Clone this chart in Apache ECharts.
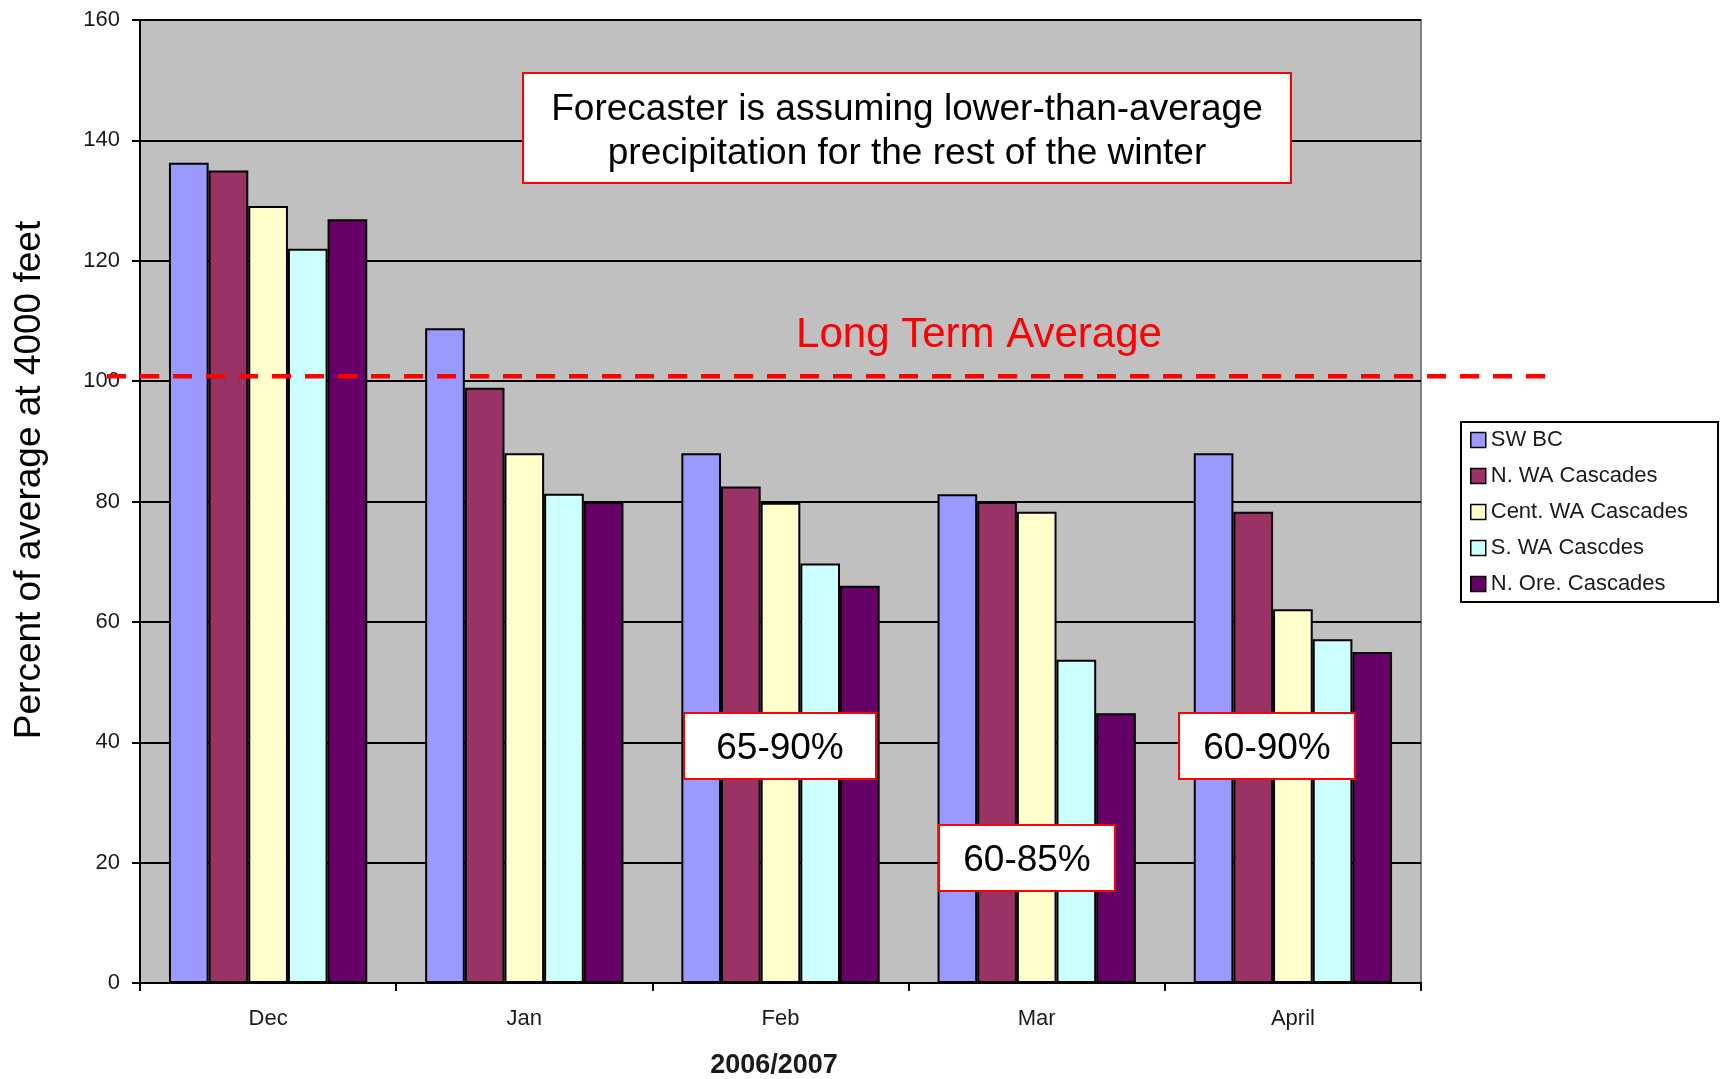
<!DOCTYPE html>
<html>
<head>
<meta charset="utf-8">
<script src="https://cdn.jsdelivr.net/npm/echarts@6/dist/echarts.min.js"></script>
<style>
html,body{margin:0;padding:0;background:#fff;}
#chart{width:1724px;height:1079px;}
</style>
</head>
<body>
<div id="chart"></div>
<script>
const categories = ['Dec', 'Jan', 'Feb', 'Mar', 'April'];
const seriesNames = ['SW BC', 'N. WA Cascades', 'Cent. WA Cascades', 'S. WA Cascdes', 'N. Ore. Cascades'];
const swBC      = [136.3, 108.8, 88.0, 81.2, 88.0];
const nWA       = [135.0, 98.9, 82.5, 79.9, 78.3];
const centWA    = [129.1, 88.0, 79.8, 78.3, 62.1];
const sWA       = [122.0, 81.3, 69.7, 53.7, 57.1];
const nOre      = [126.9, 79.9, 66.0, 44.8, 55.0];
const yTicks = [0, 20, 40, 60, 80, 100, 120, 140, 160];
const longTermAverage = 100.8;
const colors = ['#9999FF', '#993366', '#FFFFCC', '#CCFFFF', '#660066'];
const seriesData = [swBC, nWA, centWA, sWA, nOre];

const FONT = '"Liberation Sans", Arial, sans-serif';
const chart = echarts.init(document.getElementById('chart'), null, {renderer: 'canvas'});

const option = {
  animation: false,
  backgroundColor: '#ffffff',
  textStyle: {fontFamily: FONT},
  grid: {
    left: 140, right: 303, top: 20, bottom: 96,
    outerBoundsMode: 'none',
    show: true, backgroundColor: '#c0c0c0', borderColor: '#808080', borderWidth: 2
  },
  legend: {
    orient: 'vertical',
    left: 1461, top: 422,
    padding: [7, 30, 7, 9],
    itemGap: 14,
    itemWidth: 15, itemHeight: 15,
    icon: 'rect',
    borderColor: '#000', borderWidth: 2,
    backgroundColor: '#fff',
    textStyle: {fontFamily: FONT, fontSize: 22, color: '#1a1a1a', lineHeight: 22},
    itemStyle: {borderColor: '#000', borderWidth: 1.5},
    data: seriesNames
  },
  xAxis: {
    type: 'category',
    data: categories,
    boundaryGap: true,
    axisLine: {lineStyle: {color: '#000', width: 2}},
    axisTick: {show: true, length: 8, lineStyle: {color: '#000', width: 2}},
    axisLabel: {fontFamily: FONT, fontSize: 22, color: '#1a1a1a', margin: 25}
  },
  yAxis: {
    type: 'value',
    min: yTicks[0], max: yTicks[yTicks.length - 1], interval: 20,
    axisLine: {show: true, lineStyle: {color: '#000', width: 2}},
    axisTick: {show: true, length: 8, lineStyle: {color: '#000', width: 2}},
    axisLabel: {fontFamily: FONT, fontSize: 22, color: '#1a1a1a', margin: 20},
    splitLine: {show: true, lineStyle: {color: '#000', width: 1.8}}
  },
  series: seriesNames.map((n, i) => ({
    name: n,
    type: 'bar',
    data: seriesData[i],
    barGap: '0%',
    barCategoryGap: '22.6%',
    itemStyle: {color: colors[i], borderColor: '#000', borderWidth: 2},
    emphasis: {disabled: true}
  }))
};
chart.setOption(option);

const yAvg = chart.convertToPixel({yAxisIndex: 0}, longTermAverage);

function labelBox(x, y, w, h, text, dy) {
  return {
    type: 'group', x: x, y: y, z: 200,
    children: [
      {type: 'rect', z: 200, shape: {x: 0, y: 0, width: w, height: h},
       style: {fill: '#fff', stroke: '#ff0000', lineWidth: 2}},
      {type: 'text', z: 201, x: w / 2, y: h / 2 + (dy || 0),
       style: {text: text, fill: '#000', font: '37px ' + FONT, align: 'center', verticalAlign: 'middle', lineHeight: 44}}
    ]
  };
}

chart.setOption({
  graphic: [
    {type: 'line', z: 150,
     shape: {x1: 107, y1: yAvg, x2: 1549, y2: yAvg},
     style: {stroke: '#ff0000', lineWidth: 4.5, lineDash: [19, 14]}},
    {type: 'text', z: 150, x: 979, y: 335,
     style: {text: 'Long Term Average', fill: '#ff0000', font: '42px ' + FONT, align: 'center', verticalAlign: 'middle'}},
    {type: 'text', z: 150, x: 30, y: 480, rotation: Math.PI / 2,
     style: {text: 'Percent of average at 4000 feet', fill: '#000', font: '37px ' + FONT, align: 'center', verticalAlign: 'middle'}},
    {type: 'text', z: 150, x: 774, y: 1066,
     style: {text: '2006/2007', fill: '#1a1a1a', font: 'bold 27px ' + FONT, align: 'center', verticalAlign: 'middle'}},
    labelBox(523, 73, 768, 110, 'Forecaster is assuming lower-than-average\nprecipitation for the rest of the winter', 4),
    labelBox(684, 713, 192, 66, '65-90%', 3),
    labelBox(939, 825, 176, 66, '60-85%', 3),
    labelBox(1179, 713, 176, 66, '60-90%', 3)
  ]
});
</script>
</body>
</html>
